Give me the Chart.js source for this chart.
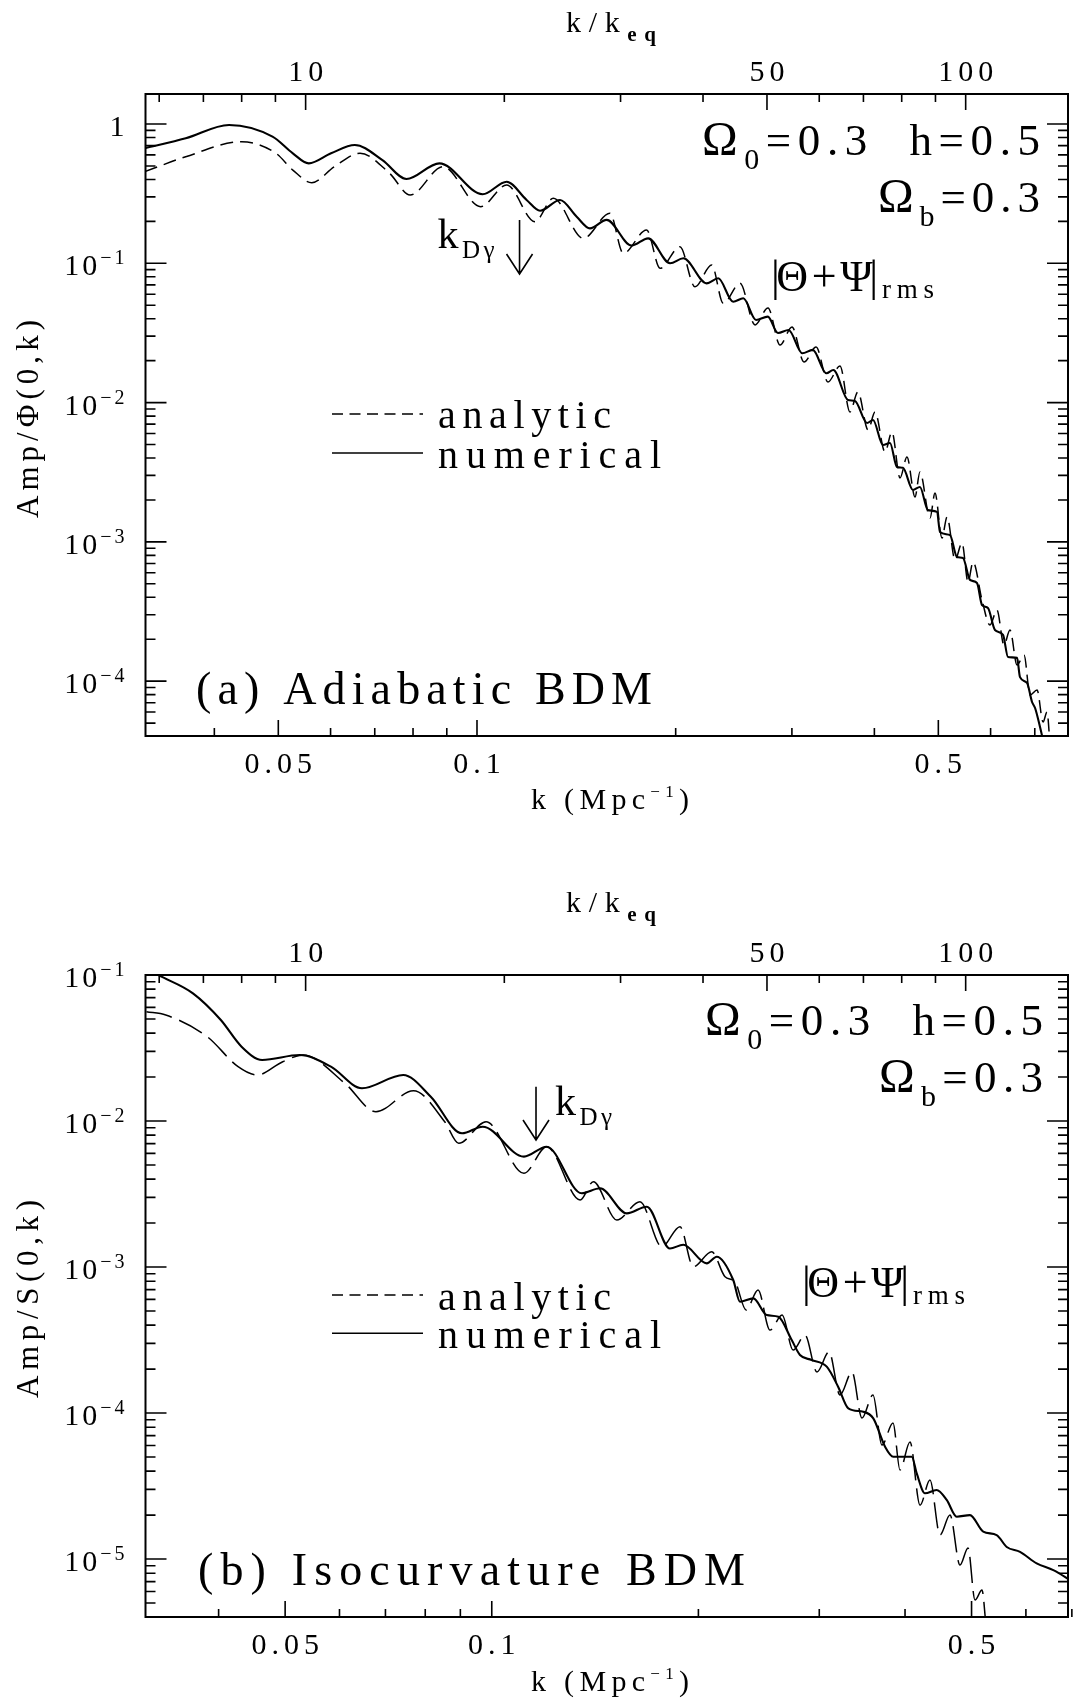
<!DOCTYPE html>
<html>
<head>
<meta charset="utf-8">
<script src="https://cdn.jsdelivr.net/npm/chart.js@4.4.1/dist/chart.umd.min.js"></script>
<style>
  html, body { margin: 0; padding: 0; background: #fff; }
  #wrap { position: relative; width: 1073px; height: 1704px; }
  canvas { position: absolute; left: 0; }
  #panelA { top: 0; }
  #panelB { top: 880px; }
</style>
</head>
<body>
<div id="wrap">
  <canvas id="panelA" width="1073" height="880"></canvas>
  <canvas id="panelB" width="1073" height="824"></canvas>
</div>
<script>
// (a) adiabatic BDM, Amp/Phi(0,k)
const kA_num = [0.0314, 0.0362, 0.0421, 0.0490, 0.0526, 0.0556, 0.0601, 0.0653, 0.0719, 0.0782,
  0.0877, 0.1020, 0.1109, 0.1189, 0.1246, 0.1336, 0.1416, 0.1483, 0.1572, 0.1715,
  0.1817, 0.1961, 0.2054, 0.2228, 0.2320, 0.2444, 0.2532, 0.2647, 0.2758, 0.2858,
  0.2965, 0.3111, 0.3226, 0.3384, 0.3466, 0.3648, 0.3738, 0.3899, 0.3981, 0.4122,
  0.4224, 0.4328, 0.4419, 0.4576, 0.4689, 0.4822, 0.4977, 0.5029, 0.5207, 0.5336,
  0.5449, 0.5584, 0.5722, 0.5823, 0.5945, 0.6092, 0.6266, 0.6376, 0.6580, 0.6648,
  0.6813, 0.6933, 0.7007, 0.7129, 0.7205];
const ampA_num = [0.669, 0.789, 0.984, 0.811, 0.616, 0.522, 0.616, 0.707, 0.551, 0.403,
  0.522, 0.313, 0.385, 0.285, 0.2385, 0.285, 0.216, 0.178, 0.205, 0.134,
  0.151, 0.100, 0.1086, 0.0718, 0.0780, 0.0530, 0.0561, 0.0392, 0.0414, 0.0316,
  0.0332, 0.0226, 0.0239, 0.01623, 0.01714, 0.01044, 0.01027, 0.00714, 0.0075, 0.00496,
  0.00513, 0.00345, 0.00340, 0.00236, 0.00248, 0.00169, 0.00164, 0.001178, 0.00112, 0.000779,
  0.000766, 0.000533, 0.000507, 0.000352, 0.000335, 0.000233, 0.000215, 0.000149, 0.000147, 0.000107,
  0.0000971, 0.0000709, 0.0000642, 0.0000469, 0.0000378];
const kA_ana = [0.0314, 0.0362, 0.0440, 0.0496, 0.0526, 0.0562, 0.0608, 0.0665, 0.0737, 0.0792,
  0.0888, 0.1013, 0.1109, 0.1224, 0.1305, 0.1449, 0.1590, 0.1666, 0.1807, 0.1894,
  0.2030, 0.2139, 0.2268, 0.2361, 0.2503, 0.2638, 0.2760, 0.2878, 0.3001, 0.3129,
  0.3264, 0.3402, 0.3548, 0.3673, 0.3777, 0.3913, 0.4009, 0.4151, 0.4253, 0.4374,
  0.4482, 0.4609, 0.4689, 0.4857, 0.4942, 0.5064, 0.5154, 0.5300, 0.5431, 0.5546,
  0.5644, 0.5823, 0.5987, 0.6135, 0.6287, 0.6420, 0.6580, 0.6743, 0.6885, 0.7056,
  0.7205, 0.7305, 0.7383];
const ampA_ana = [0.455, 0.582, 0.746, 0.616, 0.467, 0.379, 0.494, 0.616, 0.443, 0.309,
  0.494, 0.255, 0.365, 0.199, 0.293, 0.151, 0.2285, 0.118, 0.1734, 0.0921,
  0.1316, 0.0679, 0.0972, 0.0516, 0.0718, 0.0361, 0.0478, 0.0259, 0.0349, 0.01956,
  0.02506, 0.01405, 0.01831, 0.00856, 0.01191, 0.00636, 0.00856, 0.00442, 0.00615, 0.002875,
  0.00407, 0.0021, 0.003176, 0.001484, 0.002244, 0.001067, 0.00151, 0.000742, 0.000982, 0.000516,
  0.000717, 0.000383, 0.000253, 0.000324, 0.000182, 0.000233, 0.0001307, 0.0001542, 0.0000796, 0.0000865,
  0.0000509, 0.0000601, 0.000035];

// (b) isocurvature BDM, Amp/S(0,k)
const kB_num = [0.0313, 0.0327, 0.0367, 0.0403, 0.0432, 0.0463, 0.0525, 0.0583, 0.0647, 0.0743,
  0.0815, 0.0905, 0.0970, 0.1114, 0.1202, 0.1352, 0.1438, 0.1573, 0.1682, 0.1818,
  0.1901, 0.2057, 0.2127, 0.2248, 0.2299, 0.2405, 0.2515, 0.2615, 0.2735, 0.2812,
  0.2924, 0.3076, 0.3197, 0.3307, 0.3477, 0.3596, 0.3741, 0.3846, 0.4091, 0.4160,
  0.4277, 0.4446, 0.4600, 0.4757, 0.4973, 0.5200, 0.5439, 0.5626, 0.5883, 0.6221,
  0.6578, 0.6959];
const ampB_num = [0.112, 0.0998, 0.0749, 0.0492, 0.0323, 0.0262, 0.0283, 0.02355, 0.01675, 0.02066,
  0.01467, 0.00824, 0.00914, 0.0057, 0.00667, 0.0032, 0.00346, 0.00233, 0.00259, 0.00134,
  0.00142, 0.00106, 0.001177, 0.000815, 0.000579, 0.00061, 0.000469, 0.000457, 0.000316, 0.00025,
  0.000231, 0.000208, 0.000151, 0.0001077, 0.000102, 0.000092, 0.0000588, 0.0000502, 0.0000502, 0.0000386,
  0.0000282, 0.0000297, 0.0000254, 0.0000195, 0.00002, 0.0000154, 0.0000146, 0.0000121, 0.0000112, 0.00000934,
  0.0000084, 0.00000718];
const kB_ana = [0.0314, 0.0335, 0.0385, 0.0427, 0.0455, 0.0496, 0.0531, 0.0611, 0.0678, 0.0769,
  0.0854, 0.0895, 0.0981, 0.1114, 0.1202, 0.1345, 0.1406, 0.1521, 0.1644, 0.1769,
  0.1880, 0.1966, 0.2091, 0.2187, 0.2262, 0.2347, 0.2443, 0.2543, 0.2648, 0.2748,
  0.2860, 0.2977, 0.3100, 0.3216, 0.3348, 0.3462, 0.3592, 0.3702, 0.3842, 0.3933,
  0.4067, 0.4206, 0.4349, 0.4498, 0.4651, 0.4810, 0.4941, 0.5058, 0.5178, 0.5248];
const ampB_ana = [0.056, 0.0532, 0.0378, 0.02355, 0.02066, 0.02548, 0.0283, 0.01812, 0.01158, 0.01612,
  0.00989, 0.00704, 0.00989, 0.00438, 0.00667, 0.00288, 0.00384, 0.0021, 0.0028, 0.001377,
  0.001888, 0.001005, 0.001273, 0.000858, 0.000789, 0.000508, 0.000696, 0.00037, 0.000469, 0.00027,
  0.000342, 0.000191, 0.000262, 0.000133, 0.000191, 0.0000924, 0.000133, 0.0000604, 0.0000854, 0.0000407,
  0.0000633, 0.0000234, 0.0000348, 0.0000146, 0.00002, 0.0000091, 0.0000119, 0.00000524, 0.00000613, 0.00000353];

// axes
const kTicks = [0.04, 0.05, 0.06, 0.07, 0.08, 0.09, 0.1, 0.2, 0.3, 0.4, 0.5, 0.6, 0.7];
const kTickLabels = ['0.05', '0.1', '0.5'];
const keqTicks = [6, 7, 8, 9, 10, 20, 30, 40, 50, 60, 70, 80, 90, 100];
const keqTickLabels = ['10', '50', '100'];
const keqMin = 5.72, keqMax = 142.9;
const kDgamma = 0.116;

const FONT = '"Liberation Serif", "Times New Roman", serif';

// draws runs of [text, size, dy, weight]; spreads glyphs to a given width
function textRun(c, parts, x, y, align, opt) {
  opt = opt || {};
  const g = [];
  parts.forEach(p => {
    c.font = (p[3] ? p[3] + ' ' : '') + p[1] + 'px ' + FONT;
    for (const ch of p[0]) g.push({ ch: ch, f: c.font, dy: p[2] || 0, w: c.measureText(ch).width });
  });
  const nat = g.reduce((s, q) => s + q.w, 0);
  let gap = opt.sp || 0;
  if (opt.width && g.length > 1) gap = (opt.width - nat) / (g.length - 1);
  const tot = nat + gap * (g.length - 1);
  let cx = align === 'right' ? x - tot : align === 'center' ? x - tot / 2 : x;
  c.textBaseline = 'alphabetic';
  c.textAlign = 'left';
  g.forEach(q => {
    c.font = q.f;
    c.fillText(q.ch, cx, y + q.dy);
    cx += q.w + gap;
  });
}

function yTickValues(min, max) {
  const out = [];
  for (let e = -7; e <= 1; e++) {
    for (let m = 1; m <= 9; m++) {
      const v = m * Math.pow(10, e);
      if (v >= min * 0.999 && v <= max * 1.001) out.push({ v: v, major: m === 1, e: e });
    }
  }
  return out;
}

function decorate(p) {
  return {
    id: 'decorate',
    afterDraw(chart) {
      const c = chart.ctx, a = chart.chartArea;
      const sx = chart.scales.x, sx2 = chart.scales.x2, sy = chart.scales.y;
      c.save();
      c.strokeStyle = '#000';
      c.fillStyle = '#000';

      // frame
      c.lineWidth = 2;
      c.strokeRect(a.left, a.top, a.right - a.left, a.bottom - a.top);

      // inward ticks on all four sides
      c.lineWidth = 1.6;
      c.beginPath();
      kTicks.forEach(v => {
        const x = sx.getPixelForValue(v);
        const L = kTickLabels.includes(String(v)) ? 16 : 8;
        c.moveTo(x, a.bottom); c.lineTo(x, a.bottom - L);
      });
      keqTicks.forEach(v => {
        const x = sx2.getPixelForValue(v);
        const L = keqTickLabels.includes(String(v)) ? 16 : 8;
        c.moveTo(x, a.top); c.lineTo(x, a.top + L);
      });
      const yt = yTickValues(p.ampMin, p.ampMax);
      yt.forEach(t => {
        const y = sy.getPixelForValue(t.v);
        const L = t.major ? 21 : 10;
        c.moveTo(a.left, y); c.lineTo(a.left + L, y);
        c.moveTo(a.right, y); c.lineTo(a.right - L, y);
      });
      c.stroke();

      // tick labels
      kTicks.forEach(v => {
        if (!kTickLabels.includes(String(v))) return;
        textRun(c, [[String(v), 30]], sx.getPixelForValue(v), a.bottom + 37, 'center', { sp: 5 });
      });
      keqTicks.forEach(v => {
        if (!keqTickLabels.includes(String(v))) return;
        textRun(c, [[String(v), 30]], sx2.getPixelForValue(v), a.top - 13, 'center', { sp: 5 });
      });
      yt.forEach(t => {
        if (!t.major) return;
        const y = sy.getPixelForValue(t.v);
        const parts = t.e === 0 ? [['1', 30]] : [['10', 30], ['\u2212' + (-t.e), 20, -11]];
        textRun(c, parts, a.left - 21, y + 12, 'right', { sp: 3 });
      });

      // axis titles
      textRun(c, [['k (Mpc', 30], ['\u22121', 17, -12], [')', 30]], p.xTitle[0], p.xTitle[1], 'left', { width: 158 });
      textRun(c, [['k/k', 30], ['eq', 21, 9, 'bold']], p.topTitle[0], p.topTitle[1], 'left', { width: 90 });
      c.save();
      c.translate(38, p.yTitle[1]);
      c.rotate(-Math.PI / 2);
      textRun(c, [[p.yTitle[0], 31]], 0, 0, 'left', { width: 198 });
      c.restore();

      // parameters
      textRun(c, [['\u03A9', 48], ['0', 30, 14], ['=0.3  h=0.5', 45]], p.omega[0], p.omega[1], 'right', { width: p.omega[2] });
      textRun(c, [['\u03A9', 48], ['b', 30, 14], ['=0.3', 45]], p.omega[0], p.omega[3], 'right', { width: p.omega[4] });

      // |Theta + Psi|_rms
      textRun(c, [['|\u0398 + \u03A8|', 44]], p.rms[0], p.rms[1], 'left', { width: 107 });
      textRun(c, [['rms', 27]], p.rms[0] + 111, p.rms[1] + 7, 'left', { width: 52 });

      // k_Dgamma arrow
      const ax = sx.getPixelForValue(kDgamma);
      const ay0 = sy.getPixelForValue(p.arrow[0]), ay1 = sy.getPixelForValue(p.arrow[1]);
      c.lineWidth = 1.6;
      c.beginPath();
      c.moveTo(ax, ay0); c.lineTo(ax, ay1);
      c.moveTo(ax - 13, ay1 - 20); c.lineTo(ax, ay1); c.lineTo(ax + 13, ay1 - 20);
      c.stroke();
      textRun(c, [['k', 42], ['D\u03B3', 25, 10]], ax + p.kd[0], p.kd[1], 'left', { width: 57 });

      // legend
      c.lineWidth = 1.4;
      c.setLineDash([11, 6.5]);
      c.beginPath(); c.moveTo(332, p.leg[0]); c.lineTo(423, p.leg[0]); c.stroke();
      c.setLineDash([]);
      c.beginPath(); c.moveTo(332, p.leg[2]); c.lineTo(423, p.leg[2]); c.stroke();
      textRun(c, [['analytic', 40]], 438, p.leg[1], 'left', { width: 173 });
      textRun(c, [['numerical', 40]], 438, p.leg[3], 'left', { width: 223 });

      // panel title
      textRun(c, [[p.title[0], 46]], p.title[1], p.title[2], 'left', { width: p.title[3] });
      c.restore();
    }
  };
}

function makePanel(id, p) {
  return new Chart(document.getElementById(id), {
    type: 'line',
    data: {
      datasets: [
        {
          label: 'numerical',
          data: p.kNum.map((k, i) => ({ x: k, y: p.ampNum[i] })),
          borderColor: '#000', borderWidth: 2.1, pointRadius: 0,
          cubicInterpolationMode: 'monotone', borderJoinStyle: 'round'
        },
        {
          label: 'analytic',
          data: p.kAna.map((k, i) => ({ x: k, y: p.ampAna[i] })),
          borderColor: '#000', borderWidth: 1.5, pointRadius: 0, borderDash: p.dash,
          cubicInterpolationMode: 'monotone'
        }
      ]
    },
    options: {
      responsive: false,
      animation: false,
      devicePixelRatio: 1,
      layout: { padding: p.pad },
      plugins: { legend: { display: false }, tooltip: { enabled: false } },
      scales: {
        x: { type: 'logarithmic', position: 'bottom', min: p.kMin, max: p.kMax, display: false },
        x2: { type: 'logarithmic', position: 'top', min: keqMin, max: keqMax, display: false },
        y: { type: 'logarithmic', min: p.ampMin, max: p.ampMax, display: false }
      }
    },
    plugins: [decorate(p)]
  });
}

makePanel('panelA', {
  kNum: kA_num, ampNum: ampA_num, kAna: kA_ana, ampAna: ampA_ana,
  kMin: 0.03146, kMax: 0.786, ampMin: 4.04e-5, ampMax: 1.642,
  pad: { left: 145.5, right: 5, top: 94, bottom: 144 },
  dash: [13, 7],
  xTitle: [531, 809], topTitle: [566, 32], yTitle: ['Amp/\u03A6(0,k)', 518],
  omega: [1040, 155, 338, 212, 162],
  rms: [771, 291],
  arrow: [0.2046, 0.0838],
  kd: [-82, 248],
  leg: [414, 428, 453, 467.5],
  title: ['(a) Adiabatic BDM', 196, 704, 456]
});

makePanel('panelB', {
  kNum: kB_num, ampNum: ampB_num, kAna: kB_ana, ampAna: ampB_ana,
  kMin: 0.0313, kMax: 0.691, ampMin: 4.01e-6, ampMax: 0.1,
  pad: { left: 145.5, right: 5, top: 95, bottom: 87 },
  dash: [26, 8],
  xTitle: [531, 811], topTitle: [566, 32], yTitle: ['Amp/S(0,k)', 518],
  omega: [1043, 155, 338, 212, 164],
  rms: [802, 417],
  arrow: [0.01718, 0.00741],
  kd: [19, 235],
  leg: [415, 430, 453.3, 468.3],
  title: ['(b) Isocurvature BDM', 198, 705, 547]
});
</script>
</body>
</html>
